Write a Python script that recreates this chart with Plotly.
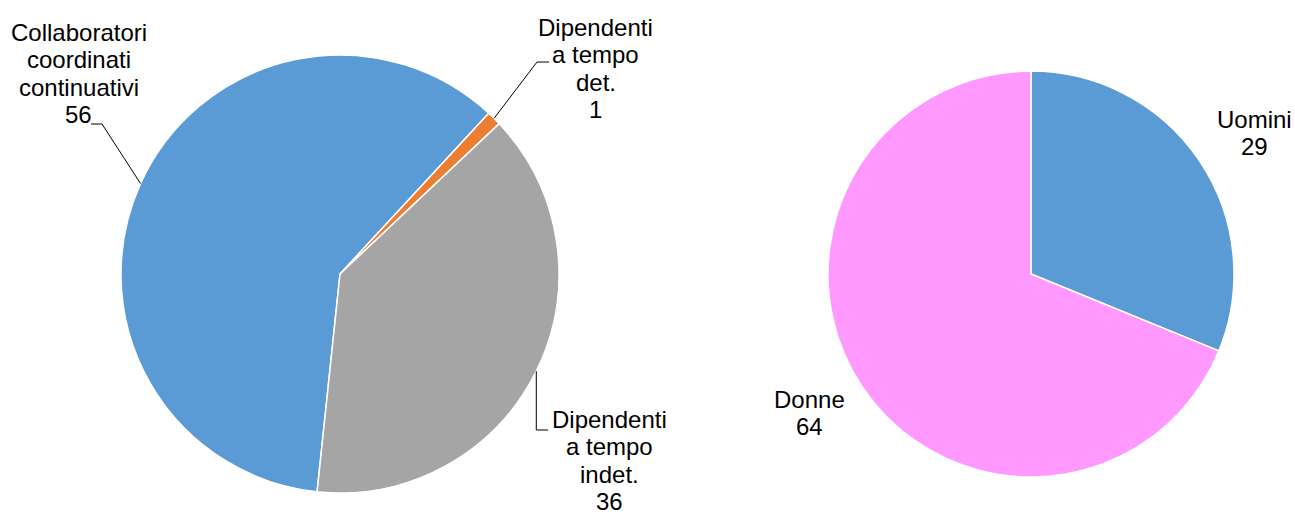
import math
import plotly.graph_objects as go

W, H = 1295, 514

# ---- data ----
left_labels = ["Collaboratori coordinati continuativi", "Dipendenti a tempo det.", "Dipendenti a tempo indet."]
left_values = [56, 1, 36]
left_colors = ["#5B9BD5", "#ED7D31", "#A5A5A5"]
left_text_lines = [["Collaboratori", "coordinati", "continuativi"],
                   ["Dipendenti", "a tempo", "det."],
                   ["Dipendenti", "a tempo", "indet."]]

right_labels = ["Uomini", "Donne"]
right_values = [29, 64]
right_colors = ["#5B9BD5", "#FF99FF"]

# ---- layout geometry (window pixels) ----
L_CX, L_CY, L_R = 340, 274, 219
R_CX, R_CY, R_R = 1031, 274, 203
L_ROT = 186
R_ROT = 0

FONT = dict(family="Liberation Sans, Arial, sans-serif", size=24, color="#000000")
LINE_H = 27.6


def px2paper(x, y):
    return x / W, 1 - y / H


def domain(cx, cy, r):
    x0, y1 = px2paper(cx - r, cy - r)
    x1, y0 = px2paper(cx + r, cy + r)
    return dict(x=[x0, x1], y=[y0, y1])


def slice_mid_point(values, idx, rot, cx, cy, r):
    total = sum(values)
    start = rot + 360 * sum(values[:idx]) / total
    mid = start + 180 * values[idx] / total
    a = math.radians(mid)
    return cx + r * math.sin(a), cy - r * math.cos(a)


fig = go.Figure()
fig.add_trace(go.Pie(labels=left_labels, values=left_values, sort=False, direction="clockwise",
                     rotation=L_ROT, marker=dict(colors=left_colors, line=dict(color="white", width=1.5)),
                     textinfo="none", hoverinfo="label+value", domain=domain(L_CX, L_CY, L_R),
                     showlegend=False))
fig.add_trace(go.Pie(labels=right_labels, values=right_values, sort=False, direction="clockwise",
                     rotation=R_ROT, marker=dict(colors=right_colors, line=dict(color="white", width=1.5)),
                     textinfo="none", hoverinfo="label+value", domain=domain(R_CX, R_CY, R_R),
                     showlegend=False))

annotations = []


def add_block(lines, cx, first_baseline):
    for i, t in enumerate(lines):
        x, y = px2paper(cx, first_baseline + i * LINE_H - 8)
        annotations.append(dict(text=t, x=x, y=y, xref="paper", yref="paper", xanchor="center",
                                yanchor="middle", showarrow=False, font=FONT, borderpad=0))


# label blocks (position of block, content from data)
block_pos = [(78.5, 40), (595.5, 35), (609.5, 427)]
for i, (cx, bl) in enumerate(block_pos):
    add_block(left_text_lines[i] + [str(left_values[i])], cx, bl)

right_pos = [(1254, 127), (809.5, 407)]
for i, (cx, bl) in enumerate(right_pos):
    add_block([right_labels[i], str(right_values[i])], cx, bl)

# leader lines
shapes = []


def path(points):
    d = ""
    for k, (x, y) in enumerate(points):
        xp, yp = px2paper(x, y)
        d += ("M" if k == 0 else "L") + f"{xp},{yp} "
    return d


p0 = slice_mid_point(left_values, 0, L_ROT, L_CX, L_CY, L_R)
p1 = slice_mid_point(left_values, 1, L_ROT, L_CX, L_CY, L_R)
p2 = slice_mid_point(left_values, 2, L_ROT, L_CX, L_CY, L_R)
leaders = [[(91, 124), (102, 124), p0],
           [p1, (537, 62), (549, 62)],
           [p2, (p2[0], 430), (548, 430)]]
for pts in leaders:
    shapes.append(dict(type="path", path=path(pts), xref="paper", yref="paper",
                       line=dict(color="#000000", width=1)))

fig.update_layout(width=W, height=H, margin=dict(l=0, r=0, t=0, b=0),
                  paper_bgcolor="white", plot_bgcolor="white",
                  annotations=annotations, shapes=shapes, showlegend=False)

fig.write_html("out.html", config={"displayModeBar": False},
               post_script="document.body.style.margin='0';document.body.style.overflow='hidden';")
